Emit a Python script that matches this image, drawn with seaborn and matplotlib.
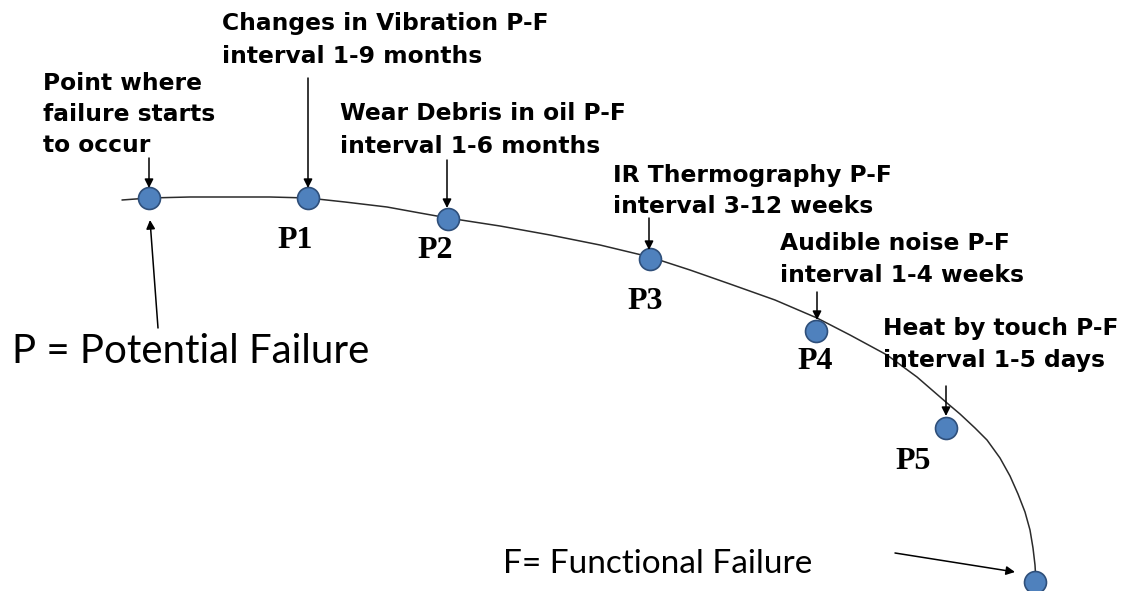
"""
P-F curve: potential failure points along the degradation curve down to
functional failure, with the P-F interval of each detection method.
"""

import matplotlib

matplotlib.use('Agg')
import matplotlib.pyplot as plt
import pandas as pd
import seaborn as sns

sns.set_theme(style='white')

# %% Data (in pixel units of the 1121x591 picture)

curve_x = [122, 149, 190, 230, 270, 308, 345, 387, 420, 448, 500, 550,
           600, 650, 690, 730, 775, 817, 850, 887, 917, 947, 960, 975,
           987, 1000, 1010, 1018, 1025, 1030, 1033, 1035, 1036]
curve_y = [200, 198, 197, 197, 197, 198, 202, 207, 213, 218, 226, 235,
           245, 257, 270, 284, 300, 318, 335, 355, 377, 403, 414, 428,
           440, 458, 476, 494, 512, 530, 548, 565, 582]

point_names = ['start', 'P1', 'P2', 'P3', 'P4', 'P5', 'F']
point_x = [149, 308, 448, 650, 816, 946, 1035]
point_y = [198, 198, 219, 259, 331, 428, 582]

p_labels = ['P1', 'P2', 'P3', 'P4', 'P5']
p_label_x = [295, 435, 645, 815, 913]
p_label_y = [248, 258, 309, 369, 469]

callouts = [
    ['Point where', 'failure starts', 'to occur'],
    ['Changes in Vibration P-F', 'interval 1-9 months'],
    ['Wear Debris in oil P-F', 'interval 1-6 months'],
    ['IR Thermography P-F', 'interval 3-12 weeks'],
    ['Audible noise P-F', 'interval 1-4 weeks'],
    ['Heat by touch P-F', 'interval 1-5 days'],
]
callout_x = [43, 222, 340, 613, 780, 883]
callout_baselines = [[90, 121, 152], [30, 63], [120, 153], [182, 213],
                     [250, 282], [335, 367]]

# arrows from each callout down to its point
arrow_x = [149, 308, 447, 649, 817, 946]
arrow_top = [158, 78, 160, 218, 292, 386]
arrow_tip = [188, 188, 208, 250, 320, 416]

# %% Plot

fig = plt.figure(figsize=(11.21, 5.91), dpi=100)
ax = fig.add_axes([0, 0, 1, 1])

sns.lineplot(x=curve_x, y=curve_y, sort=False, estimator=None,
             color='#2b2b2b', linewidth=1.1, ax=ax, zorder=1)
points = pd.DataFrame({'name': point_names, 'x': point_x, 'y': point_y})
sns.scatterplot(data=points, x='x', y='y', s=250, color='#4f81bd',
                edgecolor='#2f4f7a', linewidth=1.2, ax=ax, zorder=3)

for label, lx, ly in zip(p_labels, p_label_x, p_label_y):
    ax.text(lx, ly, label, ha='center', va='baseline', fontsize=23,
            fontweight='bold', family='Liberation Serif', color='black')

for lines, cx, baselines in zip(callouts, callout_x, callout_baselines):
    for line, by in zip(lines, baselines):
        ax.text(cx, by, line, ha='left', va='baseline', fontsize=16.8,
                fontweight='bold', family='DejaVu Sans', color='black')

arrow_style = dict(arrowstyle='-|>', color='black', lw=1.1,
                   mutation_scale=13, shrinkA=0, shrinkB=0)
for axx, top, tip in zip(arrow_x, arrow_top, arrow_tip):
    ax.annotate('', xy=(axx, tip), xytext=(axx, top),
                arrowprops=arrow_style)

ax.annotate('', xy=(150, 220), xytext=(158, 328), arrowprops=arrow_style)
ax.annotate('', xy=(1015, 572), xytext=(895, 553), arrowprops=arrow_style)

ax.text(12, 363, 'P = Potential Failure', ha='left', va='baseline',
        fontsize=29, family='Lato', color='black')
ax.text(503, 573, 'F= Functional Failure', ha='left', va='baseline',
        fontsize=24, family='Lato', color='black')

ax.set_xlim(0, 1121)
ax.set_ylim(591, 0)
ax.axis('off')

fig.savefig('out.png', dpi=100)
plt.close(fig)
print("Saved out.png")
